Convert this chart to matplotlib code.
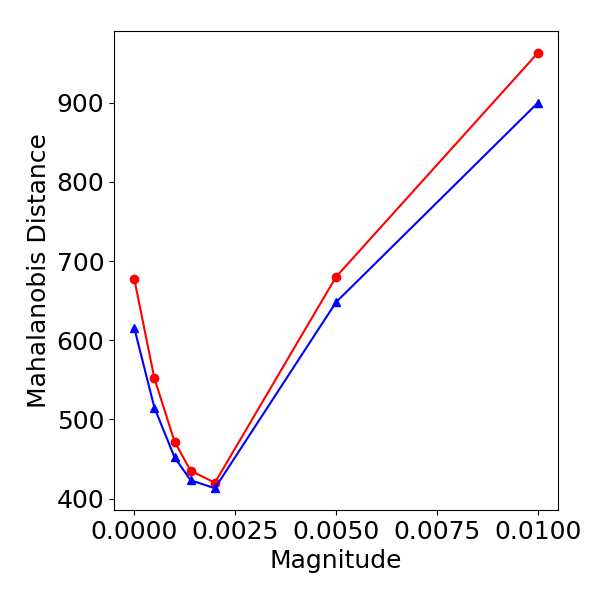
import matplotlib
matplotlib.use('Agg')
import matplotlib.pyplot as plt

# values
magnitude = [0.0, 0.0005, 0.001, 0.0014, 0.002, 0.005, 0.01]
dist_red = [678, 552, 472, 435, 420, 680, 963]
dist_blue = [616, 515, 452, 423, 413, 648, 900]

plt.rcParams['font.size'] = 18

fig = plt.figure(figsize=(6, 6), dpi=100)
ax = fig.add_axes([0.19, 0.15, 0.74, 0.798])

ax.plot(magnitude, dist_red, color='red', marker='o')
ax.plot(magnitude, dist_blue, color='blue', marker='^')

ax.set_xlabel('Magnitude')
ax.set_ylabel('Mahalanobis Distance')
ax.set_xticks([0.0, 0.0025, 0.005, 0.0075, 0.01])
ax.set_yticks([400, 500, 600, 700, 800, 900])

fig.savefig('out.png', dpi=100)
